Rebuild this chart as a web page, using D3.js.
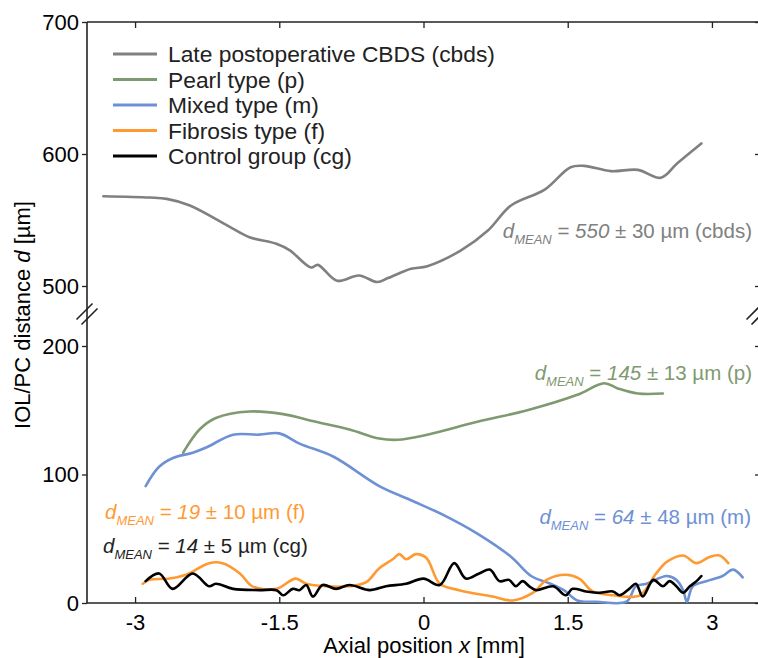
<!DOCTYPE html>
<html>
<head>
<meta charset="utf-8">
<script src="https://cdn.jsdelivr.net/npm/d3@7"></script>
<style>
  html, body { margin: 0; padding: 0; background: #fff; }
  svg { display: block; font-family: "Liberation Sans", Arial, sans-serif; }
</style>
</head>
<body>
<svg id="chart" width="758" height="658"></svg>
<script>
// ############################################################################
// Data (axial position x in mm, distance d in µm)
// ############################################################################

const cbdsX = [-3.33, -2.85, -2.67, -2.43, -2.02, -1.81, -1.53, -1.39, -1.17, -1.10, -0.90, -0.67, -0.48, -0.37, -0.13, 0.04, 0.39, 0.67, 0.91, 1.26, 1.53, 1.67, 1.95, 2.23, 2.47, 2.64, 2.89]
const cbdsD = [568, 567, 566, 561, 545, 537, 532, 527, 514, 516, 504, 508, 503, 506, 513, 515, 527, 542, 561, 573, 590, 591, 587, 588, 582, 593, 608]

const pearlX = [-2.50, -2.33, -2.16, -1.81, -1.46, -1.12, -0.77, -0.46, -0.27, 0.04, 0.56, 1.08, 1.60, 1.88, 2.02, 2.23, 2.49]
const pearlD = [117, 135, 144, 149, 147, 141, 135, 128, 127, 131, 141, 150, 162, 171, 167, 163, 163]

const mixedX = [-2.89, -2.75, -2.60, -2.40, -2.26, -1.98, -1.71, -1.50, -1.29, -0.94, -0.46, -0.13, 0.22, 0.56, 0.91, 1.12, 1.32, 1.46, 1.60, 1.80, 2.11, 2.21, 2.32, 2.53, 2.63, 2.70, 2.74, 2.80, 2.94, 3.11, 3.22, 3.32]
const mixedD = [91, 106, 113, 117, 121, 131, 131, 132, 124, 114, 91, 80, 68, 54, 36, 21, 15, 10, 2, 1, 1, 13, 15, 21, 18, 10, 1, 13, 17, 21, 26, 20]

const fibrosisX = [-2.92, -2.85, -2.64, -2.47, -2.23, -2.09, -1.91, -1.78, -1.53, -1.33, -1.22, -1.01, -0.77, -0.60, -0.46, -0.32, -0.25, -0.18, -0.08, 0.03, 0.17, 0.37, 0.72, 0.93, 1.14, 1.28, 1.48, 1.62, 1.76, 1.97, 2.25, 2.42, 2.53, 2.70, 2.84, 2.98, 3.08, 3.17]
const fibrosisD = [15, 18, 19, 22, 31, 31, 23, 13, 11, 19, 15, 13, 13, 16, 27, 34, 38, 34, 38, 35, 15, 10, 5, 2, 8, 18, 22, 19, 9, 6, 6, 23, 32, 37, 31, 36, 37, 31]

const controlX = [-2.89, -2.75, -2.61, -2.40, -2.23, -2.16, -1.98, -1.71, -1.53, -1.46, -1.36, -1.29, -1.22, -1.15, -1.05, -0.91, -0.77, -0.56, -0.39, -0.18, 0.00, 0.17, 0.32, 0.44, 0.58, 0.69, 0.79, 0.89, 0.96, 1.03, 1.10, 1.17, 1.35, 1.48, 1.55, 1.69, 1.83, 1.97, 2.04, 2.14, 2.21, 2.28, 2.39, 2.49, 2.56, 2.63, 2.70, 2.77, 2.84, 2.89]
const controlD = [17, 23, 11, 23, 13, 15, 11, 10, 10, 6, 11, 10, 14, 5, 14, 11, 14, 10, 13, 15, 19, 14, 31, 19, 23, 26, 17, 18, 13, 17, 13, 10, 13, 6, 11, 9, 8, 9, 6, 11, 15, 5, 18, 13, 17, 13, 8, 13, 17, 21]

const legendLabels = ["Late postoperative CBDS (cbds)", "Pearl type (p)", "Mixed type (m)", "Fibrosis type (f)", "Control group (cg)"]
const seriesColors = ["#808080", "#7f9a70", "#6e90d4", "#ff9a33", "#000000"]

const xTicks = [-3, -1.5, 0, 1.5, 3]
const yTopTicks = [500, 600, 700]
const yBotTicks = [0, 100, 200]

// annotation: [mean, sd, tag]
const meanLabels = [[550, 30, "cbds"], [145, 13, "p"], [64, 48, "m"], [19, 10, "f"], [14, 5, "cg"]]


// ############################################################################
// Scales
// ############################################################################

const svg = d3.select("#chart")

const x = d3.scaleLinear().domain([-3.5, 3.5]).range([87, 760])
const yTop = d3.scaleLinear().domain([500, 700]).range([286, 22])
const yBot = d3.scaleLinear().domain([0, 200]).range([603, 346])

const left = x(-3.5), right = x(3.5)


// ############################################################################
// Axes
// ############################################################################

function styleAxis(g, size)
{
  g.select(".domain").remove()
  g.selectAll(".tick line").attr("stroke", "#222").attr("stroke-width", 1.3)
  g.selectAll(".tick text")
    .attr("fill", "#000")
    .style("font-size", size + "px")
    .style("font-family", "'Liberation Sans', Arial, sans-serif")
}

// frame lines
svg.append("line")
  .attr("x1", left).attr("x2", left).attr("y1", yTop(700)).attr("y2", yBot(0))
  .attr("stroke", "#222").attr("stroke-width", 1.6)
svg.append("line")
  .attr("x1", left).attr("x2", right).attr("y1", yTop(700)).attr("y2", yTop(700))
  .attr("stroke", "#222").attr("stroke-width", 1.6)
svg.append("line")
  .attr("x1", left).attr("x2", right).attr("y1", yBot(0)).attr("y2", yBot(0))
  .attr("stroke", "#222").attr("stroke-width", 1.6)

// left axes with labels
svg.append("g").attr("transform", `translate(${left},0)`)
  .call(d3.axisLeft(yTop).tickValues(yTopTicks).tickSize(5).tickPadding(3).tickFormat(d3.format("d")))
  .call(g => styleAxis(g, 22))
svg.append("g").attr("transform", `translate(${left},0)`)
  .call(d3.axisLeft(yBot).tickValues(yBotTicks).tickSize(5).tickPadding(3).tickFormat(d3.format("d")))
  .call(g => styleAxis(g, 22))

// right axes, ticks pointing inward
svg.append("g").attr("transform", `translate(${right},0)`)
  .call(d3.axisRight(yTop).tickValues(yTopTicks).tickSize(-5).tickFormat(""))
  .call(g => styleAxis(g, 22))
svg.append("g").attr("transform", `translate(${right},0)`)
  .call(d3.axisRight(yBot).tickValues(yBotTicks).tickSize(-5).tickFormat(""))
  .call(g => styleAxis(g, 22))

// bottom axis, ticks inward
svg.append("g").attr("transform", `translate(0,${yBot(0)})`)
  .call(d3.axisBottom(x).tickValues(xTicks).tickSizeInner(-6).tickSizeOuter(0).tickPadding(11).tickFormat(d => String(d)))
  .call(g => styleAxis(g, 22))

// top axis, ticks inward
svg.append("g").attr("transform", `translate(0,${yTop(700)})`)
  .call(d3.axisTop(x).tickValues(xTicks).tickSizeInner(-6).tickSizeOuter(0).tickFormat(""))
  .call(g => styleAxis(g, 22))

// break marks "//"
const breakY = 314
;[left, right - 3].forEach(bx => {
  [-2.5, 2.5].forEach(off => {
    svg.append("line")
      .attr("x1", bx - 8 + off).attr("y1", breakY + 8 + off)
      .attr("x2", bx + 8 + off).attr("y2", breakY - 8 + off)
      .attr("stroke", "#222").attr("stroke-width", 1.6)
  })
})

// axis titles
const xTitle = svg.append("text")
  .attr("x", 424).attr("y", 653)
  .attr("text-anchor", "middle")
  .style("font-size", "22px")
xTitle.append("tspan").text("Axial position ")
xTitle.append("tspan").style("font-style", "italic").text("x")
xTitle.append("tspan").text(" [mm]")

const yTitle = svg.append("text")
  .attr("transform", "translate(30,315) rotate(-90)")
  .attr("text-anchor", "middle")
  .style("font-size", "22px")
yTitle.append("tspan").text("IOL/PC distance ")
yTitle.append("tspan").style("font-style", "italic").text("d")
yTitle.append("tspan").text(" [µm]")


// ############################################################################
// Curves
// ############################################################################

const series = [
  { xs: cbdsX,     ds: cbdsD,     y: yTop },
  { xs: pearlX,    ds: pearlD,    y: yBot },
  { xs: mixedX,    ds: mixedD,    y: yBot },
  { xs: fibrosisX, ds: fibrosisD, y: yBot },
  { xs: controlX,  ds: controlD,  y: yBot }
]

series.forEach((s, i) => {
  const pts = s.xs.map((v, k) => [v, s.ds[k]])
  const line = d3.line()
    .x(p => x(p[0]))
    .y(p => s.y(p[1]))
    .curve(d3.curveCatmullRom.alpha(0.5))
  svg.append("path")
    .datum(pts)
    .attr("d", line)
    .attr("fill", "none")
    .attr("stroke", seriesColors[i])
    .attr("stroke-width", 2.6)
    .attr("stroke-linejoin", "round")
    .attr("stroke-linecap", "round")
})


// ############################################################################
// Legend
// ############################################################################

legendLabels.forEach((label, i) => {
  const cy = 54 + i * 25.5
  svg.append("line")
    .attr("x1", 113).attr("x2", 157).attr("y1", cy).attr("y2", cy)
    .attr("stroke", seriesColors[i]).attr("stroke-width", 3)
  svg.append("text")
    .attr("x", 168).attr("y", cy + 8)
    .attr("fill", "#222")
    .style("font-size", "22.8px")
    .text(label)
})


// ############################################################################
// Mean annotations
// ############################################################################

// position: [x, baseline y, anchor]
const meanPos = [[752, 238, "end"], [752, 380, "end"], [751, 524, "end"], [105, 519, "start"], [103, 553, "start"]]
const meanColors = ["#808080", "#7f9a70", "#6e90d4", "#ff9a33", "#222"]

meanLabels.forEach((m, i) => {
  const t = svg.append("text")
    .attr("x", meanPos[i][0]).attr("y", meanPos[i][1])
    .attr("text-anchor", meanPos[i][2])
    .attr("fill", meanColors[i])
    .style("font-size", "20.5px")
  t.append("tspan").style("font-style", "italic").text("d")
  t.append("tspan").style("font-style", "italic").style("font-size", "13px").attr("dy", 6).text("MEAN")
  t.append("tspan").attr("dy", -6).text(" = ")
  t.append("tspan").style("font-style", "italic").text(m[0])
  t.append("tspan").text(" ± " + m[1] + " µm (" + m[2] + ")")
})
</script>
</body>
</html>
